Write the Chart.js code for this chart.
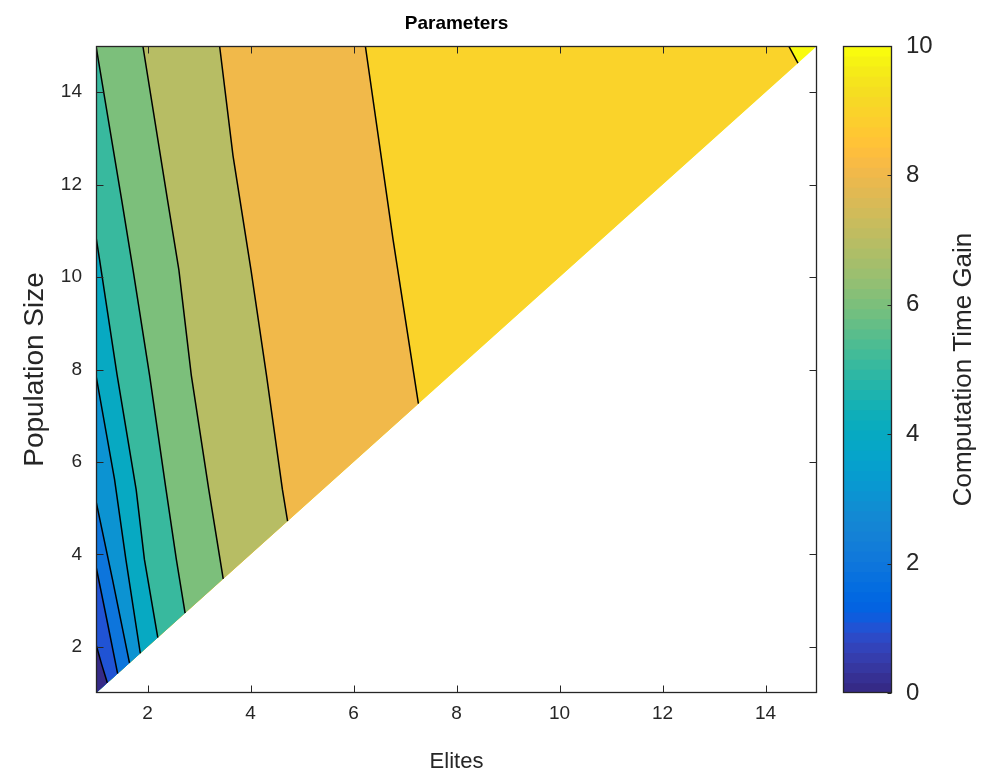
<!DOCTYPE html>
<html>
<head>
<meta charset="utf-8">
<script src="https://cdn.jsdelivr.net/npm/chart.js@4.4.1/dist/chart.umd.min.js"></script>
<style>
  html, body { margin: 0; padding: 0; background: #ffffff; }
  #wrap { position: relative; width: 991px; height: 774px; overflow: hidden; }
  #wrap canvas { position: absolute; left: 0; top: 0; }
</style>
</head>
<body>
<div id="wrap">
  <canvas id="main" width="991" height="774"></canvas>
  <canvas id="cbar" width="991" height="774"></canvas>
</div>
<script>
// ---------------- data ----------------
const chartTitle = 'Parameters';
const xAxisTitle = 'Elites';
const yAxisTitle = 'Population Size';
const colorbarTitle = 'Computation Time Gain';

const elitesRange = [1, 15];
const popRange = [1, 15];
const gainRange = [0, 10];

const eliteTicks = [2, 4, 6, 8, 10, 12, 14];
const popTicks = [2, 4, 6, 8, 10, 12, 14];
const gainTicks = [0, 2, 4, 6, 8, 10];

// contour levels and the lines (Elites, Population Size)
const contourLevels = [1, 2, 3, 4, 5, 6, 7, 8, 9, 10];
const contourElites = [
  [1.00, 1.11, 1.22],
  [1.00, 1.21, 1.42],
  [1.00, 1.32, 1.65],
  [1.00, 1.36, 1.58, 1.86],
  [1.00, 1.07, 1.41, 1.78, 1.94, 2.20],
  [1.00, 1.50, 1.72, 2.04, 2.36, 2.56, 2.73],
  [1.91, 2.39, 2.61, 2.85, 3.19, 3.47],
  [3.40, 3.66, 4.01, 4.31, 4.62, 4.72],
  [6.23, 6.77, 7.26],
  [14.45, 14.63]
];
const contourPopSize = [
  [2.05, 1.62, 1.22],
  [3.74, 2.59, 1.42],
  [5.15, 3.46, 1.65],
  [7.87, 5.62, 3.89, 1.86],
  [10.87, 10.37, 7.88, 5.40, 3.89, 2.20],
  [15.00, 11.66, 10.15, 7.88, 5.40, 3.89, 2.73],
  [15.00, 11.66, 10.15, 7.88, 5.40, 3.47],
  [15.00, 12.63, 10.15, 7.88, 5.40, 4.72],
  [15.00, 10.80, 7.26],
  [15.00, 14.63]
];

// ---------------- colormap (parula, 64 entries) ----------------
const parula = [
[0.2081,0.1663,0.5292],[0.2116,0.1898,0.5777],[0.2123,0.2138,0.6270],[0.2081,0.2386,0.6771],
[0.1959,0.2645,0.7279],[0.1707,0.2919,0.7792],[0.1253,0.3242,0.8303],[0.0591,0.3598,0.8683],
[0.0117,0.3875,0.8820],[0.0060,0.4086,0.8828],[0.0165,0.4266,0.8786],[0.0329,0.4430,0.8720],
[0.0498,0.4586,0.8641],[0.0629,0.4737,0.8554],[0.0723,0.4887,0.8467],[0.0779,0.5040,0.8384],
[0.0793,0.5200,0.8312],[0.0749,0.5375,0.8263],[0.0641,0.5570,0.8240],[0.0488,0.5772,0.8228],
[0.0343,0.5966,0.8199],[0.0265,0.6137,0.8135],[0.0239,0.6287,0.8038],[0.0231,0.6418,0.7913],
[0.0228,0.6535,0.7768],[0.0267,0.6642,0.7607],[0.0384,0.6743,0.7436],[0.0590,0.6838,0.7254],
[0.0843,0.6928,0.7062],[0.1133,0.7015,0.6859],[0.1453,0.7098,0.6646],[0.1801,0.7177,0.6424],
[0.2178,0.7250,0.6193],[0.2586,0.7317,0.5954],[0.3022,0.7376,0.5712],[0.3482,0.7424,0.5473],
[0.3953,0.7459,0.5244],[0.4420,0.7481,0.5033],[0.4871,0.7491,0.4840],[0.5300,0.7491,0.4661],
[0.5709,0.7485,0.4494],[0.6099,0.7473,0.4337],[0.6473,0.7456,0.4188],[0.6834,0.7435,0.4044],
[0.7184,0.7411,0.3905],[0.7525,0.7384,0.3768],[0.7858,0.7356,0.3633],[0.8185,0.7327,0.3498],
[0.8507,0.7299,0.3360],[0.8824,0.7274,0.3217],[0.9139,0.7258,0.3063],[0.9450,0.7261,0.2886],
[0.9739,0.7314,0.2666],[0.9938,0.7455,0.2403],[0.9990,0.7653,0.2164],[0.9955,0.7861,0.1967],
[0.9880,0.8066,0.1794],[0.9789,0.8271,0.1633],[0.9697,0.8481,0.1475],[0.9626,0.8705,0.1309],
[0.9589,0.8949,0.1132],[0.9598,0.9218,0.0948],[0.9661,0.9514,0.0755],[0.9763,0.9831,0.0538]
];
function rgbOf(c) { return 'rgb(' + c.map(v => Math.round(v * 255)).join(',') + ')'; }
function cmap(v) {
  const t = (v - gainRange[0]) / (gainRange[1] - gainRange[0]);
  const i = Math.max(0, Math.min(parula.length - 1, Math.floor(t * parula.length)));
  return rgbOf(parula[i]);
}

// ---------------- styling ----------------
const FONT = "'Liberation Sans', Arial, Helvetica, sans-serif";
const AXIS_COLOR = '#262626';
Chart.defaults.font.family = FONT;
Chart.defaults.color = AXIS_COLOR;
Chart.defaults.animation = false;

// ---------------- build datasets ----------------
function linePoints(k) {
  return contourElites[k].map((x, i) => ({ x: x, y: contourPopSize[k][i] }));
}
function regionLeftOf(k) {
  const pts = linePoints(k);
  pts.push({ x: elitesRange[0], y: popRange[0] });
  if (contourElites[k][0] > elitesRange[0]) pts.push({ x: elitesRange[0], y: popRange[1] });
  return pts;
}
const domain = [
  { x: elitesRange[0], y: popRange[0] },
  { x: elitesRange[0], y: popRange[1] },
  { x: elitesRange[1], y: popRange[1] }
];

const datasets = [];
contourLevels.forEach((lev, k) => {
  datasets.push({
    label: 'contour ' + lev, data: linePoints(k),
    borderColor: '#000000', borderWidth: 1.5, pointRadius: 0, fill: false, tension: 0, order: 0
  });
});
contourLevels.forEach((lev, k) => {
  datasets.push({
    label: 'region below ' + lev, data: regionLeftOf(k),
    backgroundColor: cmap(lev - 1), borderColor: 'rgba(0,0,0,0)', borderWidth: 0,
    pointRadius: 0, fill: 'shape', tension: 0, order: 20 + lev
  });
});
datasets.push({
  label: 'region above ' + contourLevels[contourLevels.length - 1], data: domain,
  backgroundColor: cmap(gainRange[1]), borderColor: 'rgba(0,0,0,0)', borderWidth: 0,
  pointRadius: 0, fill: 'shape', tension: 0, order: 40
});

// box + inward ticks like MATLAB
const boxPlugin = {
  id: 'boxPlugin',
  afterDatasetsDraw(chart) {
    const { ctx, chartArea: a, scales } = chart;
    const xs = scales.x, ys = scales.y;
    const L = Math.round(a.left) + 0.5, R = Math.round(a.right) - 0.5;
    const T = Math.round(a.top) + 0.5, B = Math.round(a.bottom) - 0.5;
    const tl = 7;
    ctx.save();
    ctx.strokeStyle = AXIS_COLOR;
    ctx.lineWidth = 1;
    ctx.beginPath();
    eliteTicks.forEach(v => {
      const p = Math.round(xs.getPixelForValue(v)) + 0.5;
      ctx.moveTo(p, B); ctx.lineTo(p, B - tl);
      ctx.moveTo(p, T); ctx.lineTo(p, T + tl);
    });
    popTicks.forEach(v => {
      const p = Math.round(ys.getPixelForValue(v)) + 0.5;
      ctx.moveTo(L, p); ctx.lineTo(L + tl, p);
      ctx.moveTo(R, p); ctx.lineTo(R - tl, p);
    });
    ctx.stroke();
    ctx.lineWidth = 1.3;
    ctx.strokeRect(L, T, R - L, B - T);
    ctx.restore();
  }
};

new Chart(document.getElementById('main'), {
  type: 'line',
  data: { datasets: datasets },
  options: {
    responsive: false,
    animation: false,
    layout: { padding: { left: 0, top: 0, right: 174, bottom: 0 } },
    plugins: {
      legend: { display: false },
      tooltip: { enabled: false },
      title: {
        display: true, text: chartTitle, fullSize: false, color: '#000000',
        font: { size: 19, weight: 'bold', family: FONT },
        padding: { top: 12.6, bottom: 10.6 }
      }
    },
    scales: {
      x: {
        type: 'linear', min: elitesRange[0], max: elitesRange[1],
        afterBuildTicks: s => { s.ticks = eliteTicks.map(v => ({ value: v })); },
        afterFit: s => { s.height = 81; },
        grid: { display: false, drawTicks: false },
        border: { display: false },
        ticks: { font: { size: 19 }, padding: 9, maxRotation: 0, autoSkip: false, color: AXIS_COLOR },
        title: { display: true, text: xAxisTitle, font: { size: 22 }, padding: { top: 0, bottom: -1 }, color: AXIS_COLOR }
      },
      y: {
        type: 'linear', min: popRange[0], max: popRange[1],
        afterBuildTicks: s => { s.ticks = popTicks.map(v => ({ value: v })); },
        afterFit: s => { s.width = 96; },
        grid: { display: false, drawTicks: false },
        border: { display: false },
        ticks: { font: { size: 19 }, padding: 14, autoSkip: false, color: AXIS_COLOR },
        title: { display: true, text: yAxisTitle, font: { size: 28 }, padding: { top: 18, bottom: 0 }, color: AXIS_COLOR }
      }
    }
  },
  plugins: [boxPlugin]
});

// ---------------- colorbar ----------------
const cbDatasets = parula.map((c, i) => ({
  label: 'band ' + i,
  data: [[gainRange[0] + (gainRange[1] - gainRange[0]) * i / parula.length, gainRange[1]]],
  backgroundColor: rgbOf(c), borderWidth: 0, borderSkipped: false,
  barPercentage: 1, categoryPercentage: 1, grouped: false,
  order: parula.length - i
}));

const cbPlugin = {
  id: 'cbPlugin',
  afterDatasetsDraw(chart) {
    const { ctx, chartArea: a, scales } = chart;
    const ys = scales.y;
    const L = Math.round(a.left) + 0.5, R = Math.round(a.right) - 0.5;
    const T = Math.round(a.top) + 0.5, B = Math.round(a.bottom) - 0.5;
    ctx.save();
    ctx.strokeStyle = AXIS_COLOR;
    ctx.lineWidth = 1;
    ctx.beginPath();
    gainTicks.forEach(v => {
      const p = Math.round(ys.getPixelForValue(v)) + 0.5;
      ctx.moveTo(R, p); ctx.lineTo(R - 4, p);
    });
    ctx.stroke();
    ctx.lineWidth = 1.3;
    ctx.strokeRect(L, T, R - L, B - T);
    // colorbar label (reads bottom to top)
    ctx.translate(964, (a.top + a.bottom) / 2);
    ctx.rotate(-Math.PI / 2);
    ctx.fillStyle = AXIS_COLOR;
    ctx.font = '26px ' + FONT;
    ctx.textAlign = 'center';
    ctx.textBaseline = 'middle';
    ctx.fillText(colorbarTitle, 0, 0);
    ctx.restore();
  }
};

new Chart(document.getElementById('cbar'), {
  type: 'bar',
  data: { labels: [''], datasets: cbDatasets },
  options: {
    responsive: false,
    animation: false,
    layout: { padding: { left: 843, top: 46, right: 0, bottom: 81 } },
    plugins: { legend: { display: false }, tooltip: { enabled: false } },
    scales: {
      x: { display: false },
      y: {
        position: 'right', min: gainRange[0], max: gainRange[1],
        afterBuildTicks: s => { s.ticks = gainTicks.map(v => ({ value: v })); },
        afterFit: s => { s.width = 99; },
        grid: { display: false, drawTicks: false },
        border: { display: false },
        ticks: { font: { size: 24 }, padding: 14, color: AXIS_COLOR }
      }
    }
  },
  plugins: [cbPlugin]
});
</script>
</body>
</html>
